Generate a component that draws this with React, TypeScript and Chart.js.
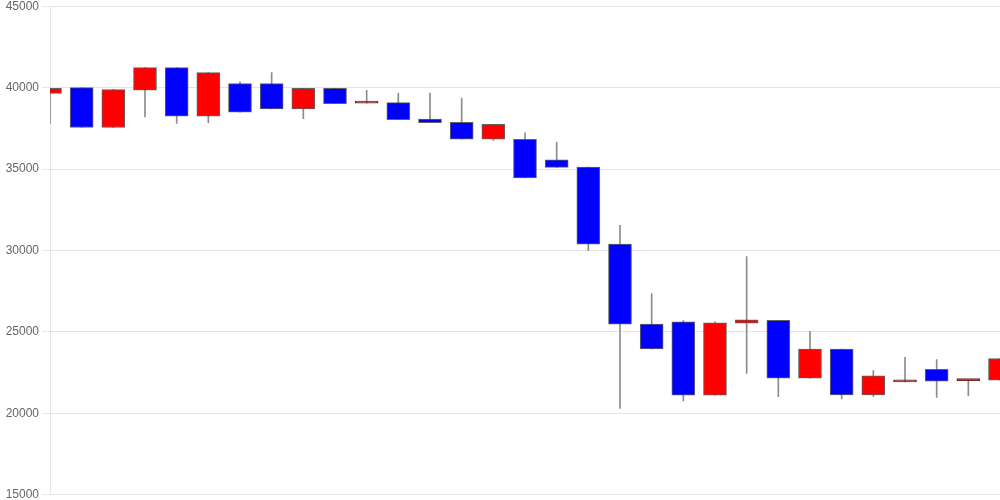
import React, { useEffect, useRef } from "react";
import { Chart, registerables } from "chart.js";

Chart.register(...registerables);

const labels = Array.from({ length: 31 }, (_, i) => String(i + 1));
const opens = [39650, 40000, 37550, 39850, 41230, 38250, 40250, 40250, 38700, 39960, 39050, 39080, 38070, 37870, 36840, 36820, 35570, 35120, 30390, 25480, 25620, 21120, 25540, 25720, 22160, 23950, 21140, 21930, 22710, 22010, 22040];
const closes = [39950, 37550, 39880, 41230, 38250, 40920, 38500, 38700, 39960, 39020, 39050, 38030, 37850, 36840, 37745, 34450, 35100, 30390, 25470, 23950, 21120, 25560, 25740, 22160, 23950, 21140, 22300, 21930, 21970, 22010, 23360];
const highs = [39950, 40000, 39900, 41230, 41230, 40920, 40350, 40920, 39960, 39960, 39830, 39670, 39670, 39360, 37745, 37230, 36660, 35120, 31540, 27360, 25690, 25620, 29630, 25720, 25030, 23950, 22620, 23440, 23300, 22010, 23360];
const lows = [37800, 37550, 37550, 38200, 37800, 37850, 38500, 38700, 38100, 39020, 39050, 38030, 37850, 36840, 36760, 34450, 35100, 30000, 20300, 23950, 20770, 21120, 22460, 21020, 22160, 20880, 21040, 21930, 20980, 21085, 22040];
const yTicks = [15000, 20000, 25000, 30000, 35000, 40000, 45000];

export default function App() {
  const ref = useRef<HTMLCanvasElement | null>(null);
  useEffect(() => {
    document.body.style.margin = "0";
    if (!ref.current) return;
    const colorFor = (i: number) =>
      closes[i] === opens[i] ? "rgb(140,30,30)" : closes[i] > opens[i] ? "#ff0000" : "#0000ff";
    const chart = new Chart(ref.current, {
      type: "bar",
      data: {
        labels,
        datasets: [
          {
            label: "body",
            data: labels.map((_, i) => [opens[i], closes[i]]) as any,
            backgroundColor: labels.map((_, i) => colorFor(i)),
            borderColor: labels.map((_, i) =>
              closes[i] === opens[i] ? "rgb(120,40,40)" : "rgba(70,70,70,0.85)"
            ),
            borderWidth: 1,
            borderSkipped: false,
            barThickness: 23,
            minBarLength: 2,
            grouped: false,
            order: 0,
          },
          {
            label: "wick",
            data: labels.map((_, i) => [lows[i], highs[i]]) as any,
            backgroundColor: "#8c8c8c",
            borderWidth: 0,
            barThickness: 1,
            grouped: false,
            order: 1,
          },
        ],
      },
      options: {
        animation: false,
        responsive: true,
        maintainAspectRatio: false,
        plugins: { legend: { display: false }, tooltip: { enabled: false } },
        scales: {
          x: {
            display: false,
            offset: false,
          },
          y: {
            min: 15000,
            max: 45000,
            afterBuildTicks: (axis: any) => {
              axis.ticks = yTicks.map((v) => ({ value: v }));
            },
            afterFit: (axis: any) => {
              axis.width = 50;
            },
            ticks: { color: "#666", font: { size: 12 }, callback: (v: any) => String(v) },
            grid: { color: "#e5e5e5" },
            border: { color: "#e5e5e5" },
          },
        },
      },
    });
    return () => chart.destroy();
  }, []);
  return (
    <div style={{ width: 1000, height: 500, position: "relative", overflow: "hidden" }}>
      <div style={{ position: "absolute", left: 0, top: -4, width: 1000, height: 509 }}>
        <canvas ref={ref} />
      </div>
    </div>
  );
}
